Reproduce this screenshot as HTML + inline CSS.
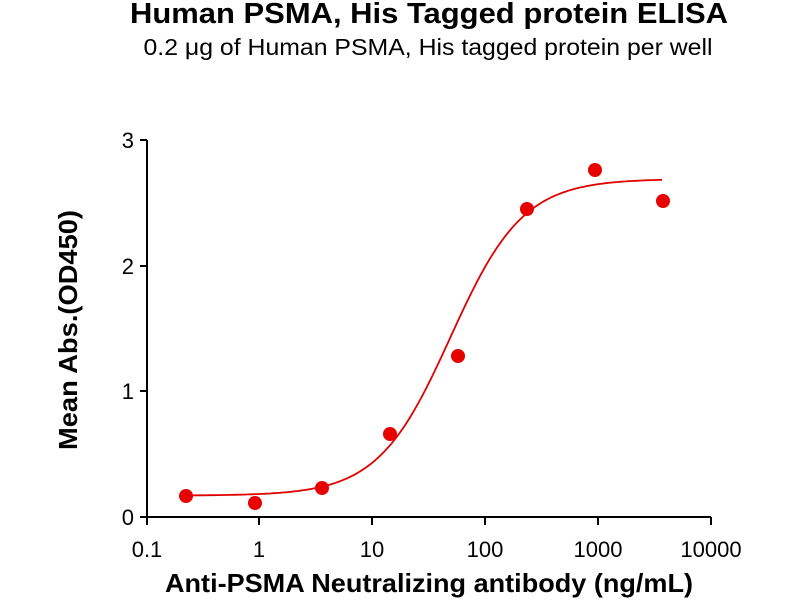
<!DOCTYPE html>
<html><head><meta charset="utf-8"><style>body{margin:0;background:#fff}svg{display:block}</style></head>
<body>
<svg id="s" width="800" height="600" xmlns="http://www.w3.org/2000/svg" font-family="Liberation Sans, Arial, sans-serif">
<text x="429" y="23" text-anchor="middle" font-size="29" font-weight="bold" textLength="598" lengthAdjust="spacingAndGlyphs">Human PSMA, His Tagged protein ELISA</text>
<text x="428" y="55" text-anchor="middle" font-size="23" textLength="569" lengthAdjust="spacingAndGlyphs">0.2 μg of Human PSMA, His tagged protein per well</text>
<g stroke="#000" stroke-width="2" fill="none">
<path d="M147,140 V517 H711"/>
<path d="M140,140H147M140,266H147M140,391H147M140,517H147"/>
<path d="M147,517V525M259,517V525M372,517V525M485,517V525M598,517V525M711,517V525"/>
</g>
<g font-size="22" text-anchor="end">
<text x="134" y="148">3</text><text x="134" y="274">2</text><text x="134" y="399">1</text><text x="134" y="525">0</text>
</g>
<g font-size="22" text-anchor="middle">
<text x="147" y="557">0.1</text><text x="259" y="557">1</text><text x="372" y="557">10</text><text x="485" y="557">100</text><text x="598" y="557">1000</text><text x="711" y="557">10000</text>
</g>
<text x="429" y="592" text-anchor="middle" font-size="26" font-weight="bold" textLength="528" lengthAdjust="spacingAndGlyphs">Anti-PSMA Neutralizing antibody (ng/mL)</text>
<text transform="translate(77,330) rotate(-90)" text-anchor="middle" font-size="26" font-weight="bold" textLength="240" lengthAdjust="spacingAndGlyphs">Mean Abs.(OD450)</text>
<path id="c" fill="none" stroke="#e00000" stroke-width="1.8"/>
<g fill="#e80000">
<circle cx="186" cy="496" r="7"/><circle cx="255" cy="503" r="7"/><circle cx="322" cy="488" r="7"/><circle cx="390" cy="434" r="7"/><circle cx="458" cy="356" r="7"/><circle cx="527" cy="209" r="7"/><circle cx="595" cy="170" r="7"/><circle cx="663" cy="201" r="7"/>
</g>
</svg>
<script>
var d="",b=0.17,t=2.69,c=1.69,h=1.35;
for(var x=186;x<=663;x+=2){var l=-1+(x-147)/112.8;var v=b+(t-b)/(1+Math.pow(10,(c-l)*h));var y=517-v*125.7;d+=(d?"L":"M")+x+","+y.toFixed(1);}
document.getElementById("c").setAttribute("d",d);
</script>
</body></html>
